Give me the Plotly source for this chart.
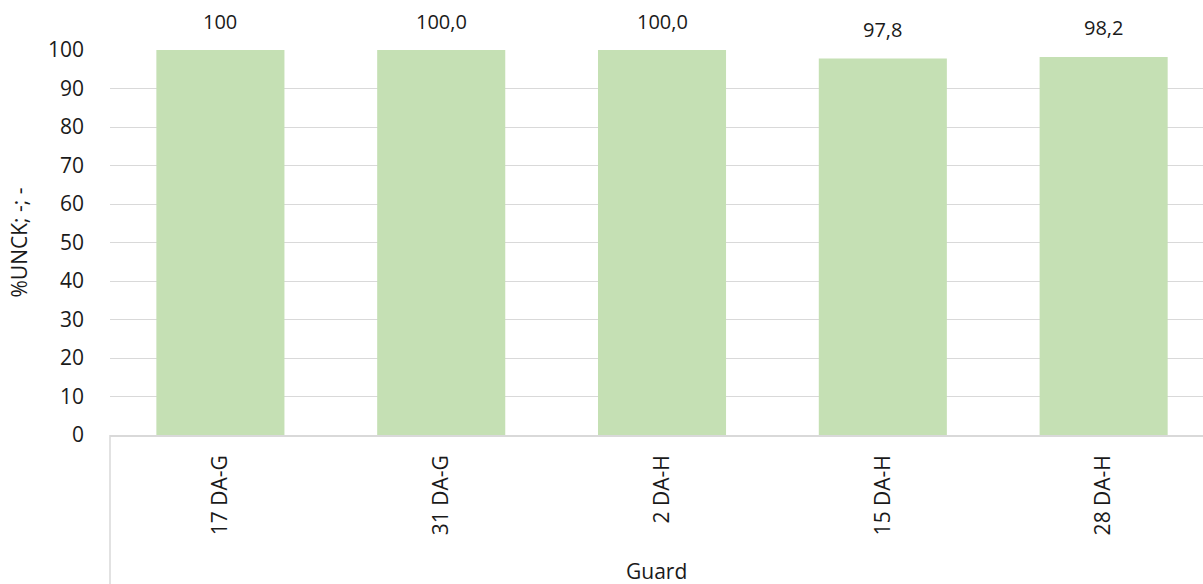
import plotly.graph_objects as go

categories = ["17 DA-G", "31 DA-G", "2 DA-H", "15 DA-H", "28 DA-H"]
values = [100, 100.0, 100.0, 97.8, 98.2]
value_labels = ["100", "100,0", "100,0", "97,8", "98,2"]
y_ticks = [0, 10, 20, 30, 40, 50, 60, 70, 80, 90, 100]

FONT = "Open Sans"
FS = 21
TXT = "#1a1a1a"
W, H = 1203, 584
ML, MR, MT, MB = 110, 0, 50, 149

fig = go.Figure()
fig.add_trace(go.Bar(
    x=categories, y=values,
    marker=dict(color="#c5e0b4", line=dict(width=0)),
    width=0.58,
    hoverinfo="skip",
))

for c, v, t in zip(categories, values, value_labels):
    fig.add_annotation(x=c, y=v, text=t, showarrow=False, yanchor="middle",
                       yshift=29, font=dict(family=FONT, size=FS - 1, color=TXT))

plot_h = H - MT - MB
fig.add_annotation(xref="paper", yref="paper", x=0.5, y=-(571 - (H - MB)) / plot_h,
                   text="Guard", showarrow=False, xanchor="center", yanchor="middle",
                   font=dict(family=FONT, size=FS, color=TXT))

# Left vertical border of the category area
fig.add_shape(type="line", xref="paper", yref="paper", x0=0, x1=0,
              y0=0, y1=-(MB + 5) / plot_h, line=dict(color="#d9d9d9", width=1.5))

fig.update_layout(
    width=W, height=H,
    margin=dict(l=ML, r=MR, t=MT, b=MB, pad=0),
    paper_bgcolor="white", plot_bgcolor="white",
    showlegend=False,
    font=dict(family=FONT, size=FS, color=TXT),
    xaxis=dict(
        type="category", range=[-0.5, 4.45],
        tickangle=-90, ticks="", ticklabelstandoff=10,
        showline=True, linecolor="#d9d9d9", linewidth=1.5,
        showgrid=False, zeroline=False,
        tickfont=dict(family=FONT, size=FS, color=TXT),
    ),
    yaxis=dict(
        range=[0, 100], tickvals=y_ticks, ticks="",
        showgrid=True, gridcolor="#d9d9d9", gridwidth=1,
        zeroline=False, showline=False,
        ticklabelstandoff=25,
        tickfont=dict(family=FONT, size=FS, color=TXT),
        title=dict(text="%UNCK; -; -", standoff=14,
                   font=dict(family=FONT, size=FS, color=TXT)),
    ),
)

fig.write_html("out.html", config={"displayModeBar": False},
               post_script="document.body.style.margin='0';document.body.style.overflow='hidden';")
